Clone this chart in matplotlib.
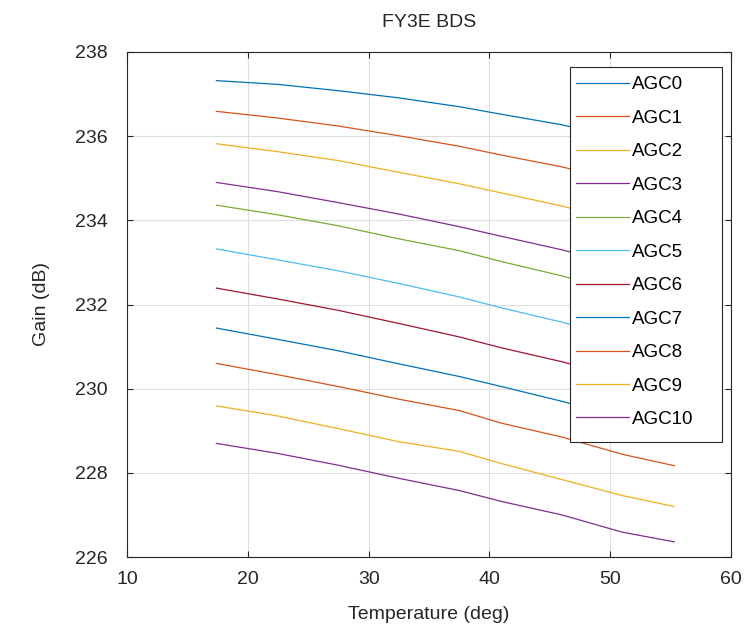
import matplotlib
matplotlib.use("Agg")
import matplotlib.pyplot as plt
from matplotlib.patches import Rectangle

# temperature sample points (deg)
temps = [17.4, 22.5, 27.5, 32.5, 37.5, 41.0, 46.0, 51.0, 55.3]

# gain per AGC level (dB)
agc0 = [237.32, 237.23, 237.08, 236.91, 236.70, 236.52, 236.27, 235.95, 235.72]
agc1 = [236.59, 236.43, 236.24, 236.01, 235.76, 235.55, 235.27, 234.93, 234.68]
agc2 = [235.82, 235.63, 235.42, 235.14, 234.87, 234.65, 234.34, 233.98, 233.72]
agc3 = [234.90, 234.68, 234.42, 234.15, 233.85, 233.62, 233.30, 232.92, 232.65]
agc4 = [234.36, 234.13, 233.87, 233.56, 233.28, 233.02, 232.68, 232.30, 232.03]
agc5 = [233.32, 233.06, 232.80, 232.50, 232.18, 231.92, 231.58, 231.20, 230.93]
agc6 = [232.39, 232.13, 231.86, 231.55, 231.23, 230.97, 230.64, 230.26, 229.98]
agc7 = [231.44, 231.17, 230.90, 230.59, 230.29, 230.05, 229.70, 229.32, 229.05]
agc8 = [230.60, 230.33, 230.05, 229.75, 229.48, 229.18, 228.85, 228.44, 228.17]
agc9 = [229.59, 229.35, 229.05, 228.74, 228.51, 228.22, 227.84, 227.46, 227.20]
agc10 = [228.70, 228.46, 228.18, 227.87, 227.58, 227.32, 227.00, 226.59, 226.36]

series = [agc0, agc1, agc2, agc3, agc4, agc5, agc6, agc7, agc8, agc9, agc10]
labels = ["AGC%d" % i for i in range(len(series))]

# MATLAB default line colour order
colors = ["#0072BD", "#D95319", "#EDB120", "#7E2F8E", "#77AC30",
          "#4DBEEE", "#A2142F"]

x_ticks = [10, 20, 30, 40, 50, 60]
y_ticks = [226, 228, 230, 232, 234, 236, 238]

plt.rcParams['font.family'] = ['Liberation Sans', 'DejaVu Sans']

fig = plt.figure(figsize=(7.52, 6.33), dpi=100)
ax = fig.add_axes([127 / 752, 1 - 557 / 633, 604 / 752, 505 / 633])

for i, vals in enumerate(series):
    ax.plot(temps, vals, color=colors[i % len(colors)], linewidth=0.9,
            label=labels[i])

ax.set_xlim(10, 60)
ax.set_ylim(226, 238)
ax.set_xticks(x_ticks)
ax.set_yticks(y_ticks)
ax.grid(True, color="#dfdfdf", linewidth=0.8)
ax.set_axisbelow(True)

for sp in ax.spines.values():
    sp.set_color("#262626")
    sp.set_linewidth(0.8)
ax.tick_params(direction="in", top=True, right=True, length=4,
               color="#262626", labelsize=14, labelcolor="#262626")
ax.tick_params(axis="x", pad=10)
ax.tick_params(axis="y", pad=14)

ax.set_xlabel("Temperature (deg)", fontsize=14, color="#262626", labelpad=13)
ax.set_ylabel("Gain (dB)", fontsize=14, color="#262626", labelpad=18)
ax.set_title("FY3E BDS", fontsize=14, color="#262626", pad=18)

# legend box drawn by hand so it can be wider than its text, as in MATLAB
box = Rectangle((0.7334, 0.2277), 0.9851 - 0.7334, 0.9703 - 0.2277,
                transform=ax.transAxes, facecolor="white",
                edgecolor="#262626", linewidth=0.8, zorder=4)
ax.add_patch(box)

leg = ax.legend(loc="upper left", bbox_to_anchor=(0.7434, 0.9525),
                borderaxespad=0, borderpad=0, fontsize=13.5,
                handlelength=2.8, handletextpad=0.2, labelspacing=0.873,
                frameon=False)
leg.set_zorder(5)

fig.savefig("out.png", dpi=100)
